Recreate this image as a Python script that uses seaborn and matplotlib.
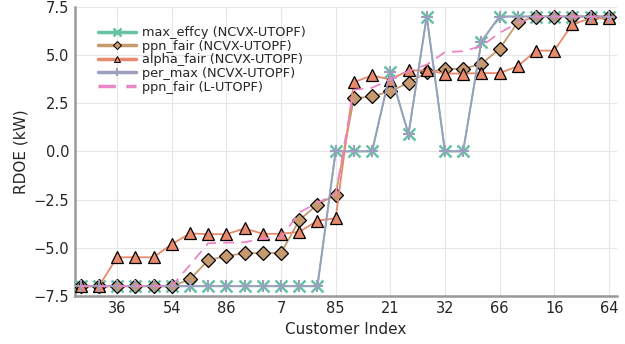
import matplotlib
matplotlib.use("Agg")
import matplotlib.pyplot as plt
from matplotlib.lines import Line2D
import seaborn as sns
import pandas as pd

# customer positions 1..30, labels every third customer
idx = list(range(1, 31))
tick_pos = [3, 6, 9, 12, 15, 18, 21, 24, 27, 30]
tick_labels = ["36", "54", "86", "7", "85", "21", "32", "66", "16", "64"]

max_effcy = [-7.0] * 14 + [0.0, 0.0, 0.0, 4.1, 0.9, 7.0, 0.0, 0.0, 5.7, 7.0,
                           7.0, 7.0, 7.0, 7.0, 7.0, 7.0]
per_max = list(max_effcy)
ppn_fair = [-7.0, -7.0, -7.0, -7.0, -7.0, -7.0, -6.65, -5.65, -5.44, -5.28,
            -5.28, -5.28, -3.57, -2.76, -2.26, 2.75, 2.85, 3.12, 3.56, 4.1,
            4.28, 4.28, 4.54, 5.32, 6.7, 7.0, 7.0, 7.0, 7.0, 7.0]
alpha_fair = [-7.0, -7.0, -5.5, -5.5, -5.5, -4.82, -4.26, -4.3, -4.3, -4.0,
              -4.28, -4.28, -4.18, -3.6, -3.47, 3.59, 3.94, 3.73, 4.2, 4.2,
              4.04, 4.04, 4.06, 4.06, 4.42, 5.23, 5.23, 6.6, 6.9, 6.9]
ppn_fair_l = [-7.0, -7.0, -7.0, -7.0, -7.0, -7.0, -5.9, -4.77, -4.74, -4.72,
              -4.52, -4.48, -3.18, -2.66, -2.23, 3.2, 3.3, 3.73, 4.16, 4.5,
              5.15, 5.2, 5.46, 6.15, 6.67, 7.0, 7.0, 7.0, 7.0, 7.0]

c_teal = "#66c2a5"
c_tan = "#c49a6e"
c_salmon = "#e9896b"
c_gray = "#9d9dbd"
c_pink = "#e986c6"

df = pd.DataFrame({"idx": idx, "max_effcy": max_effcy, "ppn_fair": ppn_fair,
                   "alpha_fair": alpha_fair, "per_max": per_max,
                   "ppn_fair_l": ppn_fair_l})

sns.set_style("white")
plt.rcParams["font.family"] = ["DejaVu Sans"]

fig = plt.figure(figsize=(6.25, 3.44), dpi=100)
ax = fig.add_axes([0.12, 0.14, 0.867, 0.84])

ax.grid(True, color="#e6e6e6", lw=0.8, zorder=0)

sns.lineplot(data=df, x="idx", y="max_effcy", ax=ax, color=c_teal, lw=1.3,
             marker="x", markersize=8, markeredgecolor=c_teal,
             markeredgewidth=1.8, zorder=3)
sns.lineplot(data=df, x="idx", y="ppn_fair", ax=ax, color=c_tan, lw=1.3,
             marker="D", markersize=7, markeredgecolor="black",
             markeredgewidth=0.9, zorder=4)
sns.lineplot(data=df, x="idx", y="alpha_fair", ax=ax, color=c_salmon, lw=1.3,
             marker="^", markersize=9, markeredgecolor="black",
             markeredgewidth=0.9, zorder=5)
sns.lineplot(data=df, x="idx", y="per_max", ax=ax, color=c_gray, lw=1.3,
             marker="+", markersize=8, markeredgecolor=c_gray,
             markeredgewidth=1.5, zorder=6)
sns.lineplot(data=df, x="idx", y="ppn_fair_l", ax=ax, color=c_pink, lw=1.3,
             dashes=(6, 4), zorder=7)

ax.set_xlim(0.69, 30.44)
ax.set_ylim(-7.5, 7.5)
ax.set_xticks(tick_pos)
ax.set_xticklabels(tick_labels)
ax.set_yticks([-7.5, -5.0, -2.5, 0.0, 2.5, 5.0, 7.5])
ax.set_yticklabels(["\u22127.5", "\u22125.0", "\u22122.5", "0.0", "2.5", "5.0", "7.5"])
ax.tick_params(labelsize=10.5, direction="in", length=3, color="#888888", pad=4)
ax.set_xlabel("Customer Index", fontsize=11)
ax.set_ylabel("RDOE (kW)", fontsize=11)

for s in ["top", "right"]:
    ax.spines[s].set_visible(False)
for s in ["left", "bottom"]:
    ax.spines[s].set_color("#999999")
    ax.spines[s].set_linewidth(1.8)

handles = [
    Line2D([], [], color=c_teal, lw=2.5, marker="x", markersize=6,
           markeredgecolor=c_teal, markeredgewidth=1.8),
    Line2D([], [], color=c_tan, lw=2.5, marker="D", markersize=4,
           markeredgecolor="black", markeredgewidth=0.7),
    Line2D([], [], color=c_salmon, lw=2.5, marker="^", markersize=5,
           markeredgecolor="black", markeredgewidth=0.7),
    Line2D([], [], color=c_gray, lw=2.5, marker="+", markersize=6,
           markeredgecolor=c_gray, markeredgewidth=1.5),
    Line2D([], [], color=c_pink, lw=2.5, dashes=(5, 3)),
]
labels = ["max_effcy (NCVX-UTOPF)", "ppn_fair (NCVX-UTOPF)", "alpha_fair (NCVX-UTOPF)",
          "per_max (NCVX-UTOPF)", "ppn_fair (L-UTOPF)"]
ax.legend(handles, labels, loc="upper left", bbox_to_anchor=(0.025, 0.965),
          frameon=False, fontsize=9.3, handlelength=3.0, handletextpad=0.4,
          labelspacing=0.05, borderpad=0.2)

fig.savefig("out.png", dpi=100)
